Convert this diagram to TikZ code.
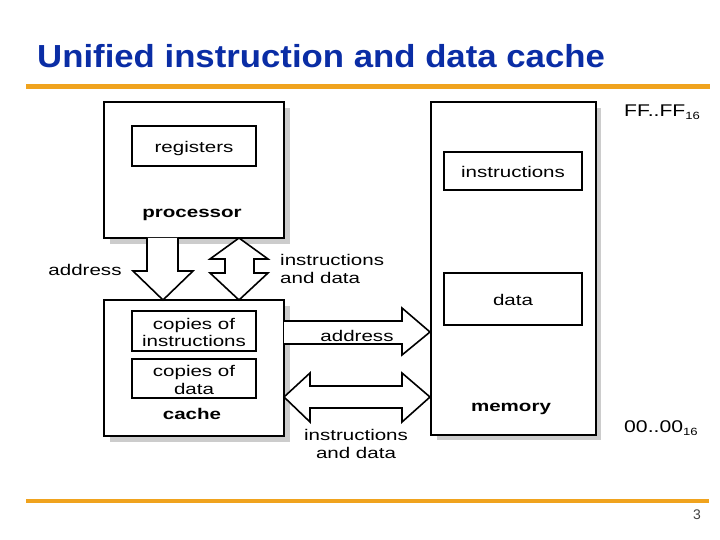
\documentclass[tikz,border=0pt]{standalone}
\usepackage{fontspec}
\setmainfont{Liberation Sans}
\usepackage{graphicx}
\definecolor{titleblue}{HTML}{0A2DA5}
\definecolor{rulecol}{HTML}{F0A31E}
\newcommand\stx[1]{\raisebox{-3.5bp}[\height][\depth]{\scalebox{1.33}[1]{\begin{tabular}{@{}c@{}}#1\end{tabular}}}}
\newcommand\stxl[1]{\raisebox{-3.5bp}[\height][\depth]{\scalebox{1.33}[1]{\begin{tabular}{@{}l@{}}#1\end{tabular}}}}
\newcommand\hexlbl[2]{\scalebox{1.25}[1]{#1\raisebox{-2.5bp}{\fontsize{10.5}{10.5}\selectfont #2}}}
\begin{document}
\begin{tikzpicture}[x=1bp,y=-1bp,
  box/.style={draw, line width=2bp, inner sep=0pt, font=\fontsize{15.5}{17.5}\selectfont},
  lbl/.style={inner sep=0pt, font=\fontsize{15.5}{17.5}\selectfont},
  blk/.style={draw, line width=1.6bp, line join=miter, fill=white},
  shade/.style={fill=gray!40, draw=none}]
\useasboundingbox (0,0) rectangle (720,540);

% title and rules
\node[anchor=base west, inner sep=0pt, font=\fontsize{32}{36}\selectfont\bfseries, text=titleblue] (title) at (37,68) {\scalebox{1.09}[1]{Unified instruction and data cache}};
\draw[rulecol, line width=5bp] (26,87) -- (710,87);
\draw[rulecol, line width=3.5bp] (26,501) -- (709,501);
\node[inner sep=0pt, font=\fontsize{14}{14}\selectfont, text=black!75] (pg) at (697,515) {3};

% shadows
\fill[shade] (285,108) rectangle (290,244);
\fill[shade] (110,239) rectangle (290,244);
\fill[shade] (285,306) rectangle (290,442);
\fill[shade] (110,437) rectangle (290,442);
\fill[shade] (597,108) rectangle (601,440);
\fill[shade] (437,436) rectangle (601,440);

% boxes
\node[box, minimum width=180bp, minimum height=136bp] (proc) at (194,170) {};
\node[box, minimum width=124bp, minimum height=40bp] (reg) at (194,146) {\stx{registers}};
\node[lbl] (proclbl) at (192,211) {\stx{\bfseries processor}};

\node[box, minimum width=180bp, minimum height=136bp] (cache) at (194,368) {};
\node[box, minimum width=124bp, minimum height=40bp] (cins) at (194,331) {\stx{copies of\\instructions}};
\node[box, minimum width=124bp, minimum height=39bp] (cdat) at (194,378.5) {\stx{copies of\\data}};
\node[lbl] (cachelbl) at (192,413) {\stx{\bfseries cache}};

\node[box, minimum width=165bp, minimum height=333bp] (mem) at (513.5,268.5) {};
\node[box, minimum width=138bp, minimum height=38bp] (mins) at (513,171) {\stx{instructions}};
\node[box, minimum width=138bp, minimum height=52bp] (mdat) at (513,299) {\stx{data}};
\node[lbl] (memlbl) at (511,405) {\stx{\bfseries memory}};

% address labels
\node[anchor=west, inner sep=0pt, font=\fontsize{17}{17}\selectfont] (ffl) at (624,112) {\hexlbl{FF..FF}{16}};
\node[anchor=west, inner sep=0pt, font=\fontsize{17}{17}\selectfont] (zzl) at (624,428) {\hexlbl{00..00}{16}};

% processor <-> cache arrows
\draw[blk] (147,238) -- (147,271) -- (133,271) -- (163,300) -- (193,271) -- (178,271) -- (178,238);
\draw[blk] (239,238) -- (268,259) -- (254,259) -- (254,273) -- (268,273) -- (239,300)
  -- (210,273) -- (225,273) -- (225,259) -- (210,259) -- cycle;
\node[lbl] (addr1) at (85,269) {\stx{address}};
\node[lbl, anchor=west] (id1) at (280,267.5) {\stxl{instructions\\and data}};

% cache <-> memory arrows
\draw[blk] (284,321) -- (402,321) -- (402,308) -- (430,332) -- (402,355) -- (402,344) -- (284,344);
\draw[blk] (284,397) -- (310,373) -- (310,386) -- (402,386) -- (402,373) -- (430,397)
  -- (402,422) -- (402,408) -- (310,408) -- (310,422) -- cycle;
\node[lbl] (addr2) at (357,335) {\stx{address}};
\node[lbl] (id2) at (356,442.5) {\stx{instructions\\and data}};
\end{tikzpicture}
\end{document}
